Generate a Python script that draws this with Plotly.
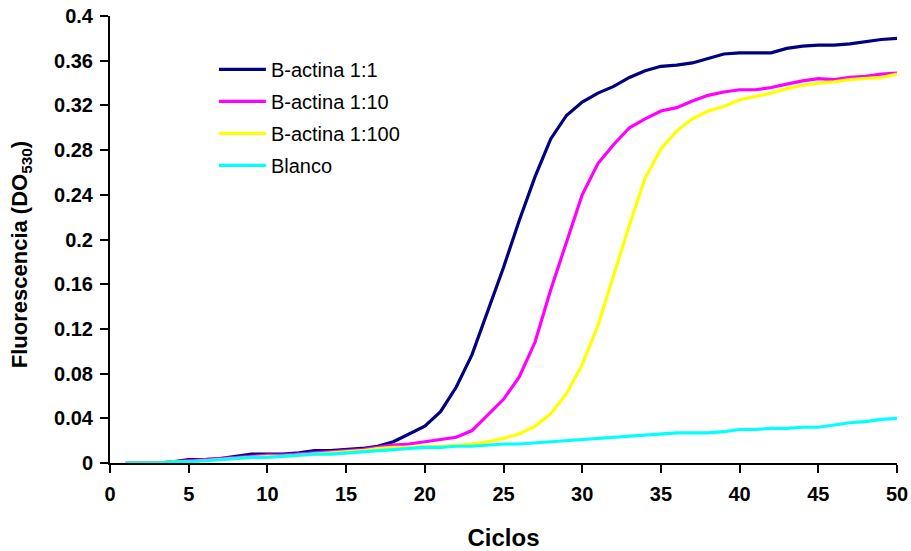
import plotly.graph_objects as go

cycles = list(range(1, 51))

actina_1_1 = [0.000, 0.000, 0.000, 0.001, 0.003, 0.003, 0.004, 0.006, 0.008, 0.008,
              0.008, 0.009, 0.011, 0.011, 0.012, 0.013, 0.015, 0.019, 0.026, 0.033,
              0.046, 0.068, 0.097, 0.136, 0.175, 0.217, 0.256, 0.290, 0.311, 0.323,
              0.331, 0.337, 0.345, 0.351, 0.355, 0.356, 0.358, 0.362, 0.366, 0.367,
              0.367, 0.367, 0.371, 0.373, 0.374, 0.374, 0.375, 0.377, 0.379, 0.380]

actina_1_10 = [0.000, 0.000, 0.000, 0.001, 0.002, 0.003, 0.004, 0.005, 0.006, 0.007,
               0.007, 0.008, 0.009, 0.010, 0.011, 0.012, 0.014, 0.016, 0.017, 0.019,
               0.021, 0.023, 0.029, 0.043, 0.057, 0.077, 0.108, 0.155, 0.198, 0.240,
               0.268, 0.285, 0.300, 0.308, 0.315, 0.318, 0.324, 0.329, 0.332, 0.334,
               0.334, 0.336, 0.339, 0.342, 0.344, 0.343, 0.345, 0.346, 0.348, 0.349]

actina_1_100 = [0.000, 0.000, 0.000, 0.001, 0.001, 0.002, 0.003, 0.004, 0.005, 0.006,
                0.006, 0.007, 0.008, 0.009, 0.010, 0.011, 0.013, 0.014, 0.014, 0.015,
                0.015, 0.016, 0.017, 0.019, 0.022, 0.026, 0.033, 0.044, 0.062, 0.088,
                0.123, 0.168, 0.213, 0.255, 0.281, 0.297, 0.308, 0.315, 0.319, 0.325,
                0.328, 0.331, 0.335, 0.338, 0.340, 0.341, 0.343, 0.344, 0.345, 0.348]

blanco = [0.000, 0.000, 0.000, 0.001, 0.001, 0.002, 0.003, 0.004, 0.005, 0.005,
          0.006, 0.007, 0.008, 0.008, 0.009, 0.010, 0.011, 0.012, 0.013, 0.014,
          0.014, 0.015, 0.015, 0.016, 0.017, 0.017, 0.018, 0.019, 0.020, 0.021,
          0.022, 0.023, 0.024, 0.025, 0.026, 0.027, 0.027, 0.027, 0.028, 0.030,
          0.030, 0.031, 0.031, 0.032, 0.032, 0.034, 0.036, 0.037, 0.039, 0.040]

series_names = ["B-actina 1:1", "B-actina 1:10", "B-actina 1:100", "Blanco"]
series_values = [actina_1_1, actina_1_10, actina_1_100, blanco]
series_colors = ["#000080", "#FF00FF", "#FFFF00", "#00FFFF"]

x_ticks = [0, 5, 10, 15, 20, 25, 30, 35, 40, 45, 50]
y_ticks = [0, 0.04, 0.08, 0.12, 0.16, 0.2, 0.24, 0.28, 0.32, 0.36, 0.4]
y_tick_labels = ["0", "0.04", "0.08", "0.12", "0.16", "0.2", "0.24", "0.28", "0.32", "0.36", "0.4"]

fig = go.Figure()
for i, (name, vals, col) in enumerate(zip(series_names, series_values, series_colors)):
    fig.add_trace(go.Scatter(
        x=cycles, y=vals, mode="lines", name=name,
        line=dict(color=col, width=3.2),
        legendgroup=f"g{i}",
    ))

font_family = "Liberation Sans, Arial, sans-serif"

fig.add_annotation(
    text="<b>Fluorescencia (DO<sub>530</sub>)</b>",
    xref="paper", yref="paper", x=-0.113, y=0.465,
    xanchor="center", yanchor="middle", textangle=-90, showarrow=False,
    font=dict(size=22, family=font_family, color="black"),
)

fig.update_layout(
    width=911, height=551,
    margin=dict(l=110, r=14, t=16, b=88),
    paper_bgcolor="white", plot_bgcolor="white",
    font=dict(family=font_family, color="black"),
    showlegend=True,
    legend=dict(
        x=0.132, y=0.924, xanchor="left", yanchor="top",
        font=dict(size=20, family=font_family, color="black"),
        bgcolor="rgba(0,0,0,0)",
        traceorder="grouped", tracegroupgap=3,
        itemwidth=47,
    ),
    xaxis=dict(
        range=[0, 50], tickvals=x_ticks, automargin=False,
        showline=True, linecolor="black", linewidth=2,
        ticks="outside", ticklen=8, tickwidth=2, tickcolor="black",
        ticklabelstandoff=4,
        showgrid=False, zeroline=False,
        tickfont=dict(size=20, family=font_family, color="black", weight="bold"),
        title=dict(text="<b>Ciclos</b>", font=dict(size=24, family=font_family), standoff=25),
    ),
    yaxis=dict(
        range=[0, 0.4], tickvals=y_ticks, ticktext=y_tick_labels, automargin=False,
        showline=True, linecolor="black", linewidth=2,
        ticks="outside", ticklen=8, tickwidth=2, tickcolor="black",
        ticklabelstandoff=3,
        showgrid=False, zeroline=False,
        tickfont=dict(size=20, family=font_family, color="black", weight="bold"),
    ),
)

fig.write_html("out.html")
